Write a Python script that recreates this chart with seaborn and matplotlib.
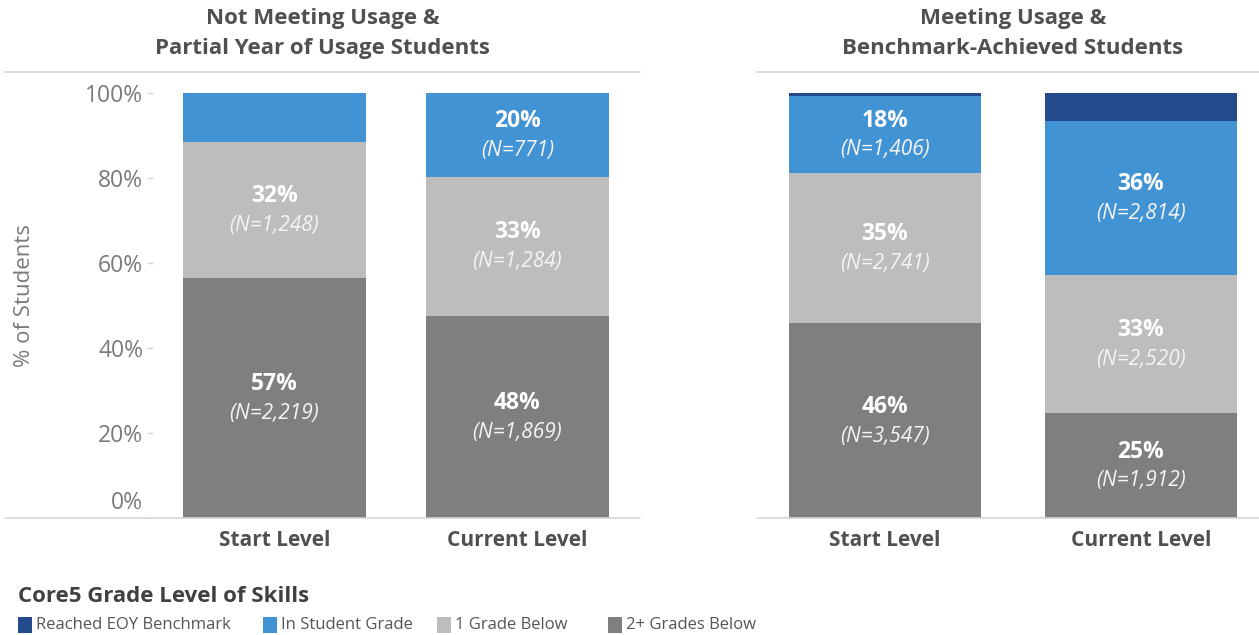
import numpy as np
import pandas as pd
import seaborn as sns
import matplotlib
matplotlib.use("Agg")
import matplotlib.pyplot as plt
from matplotlib.lines import Line2D
from matplotlib.patches import Rectangle
from matplotlib.transforms import ScaledTranslation

# ---- data -------------------------------------------------------------
levels = ["Start Level", "Current Level"]
skill_bands = ["Reached EOY Benchmark", "In Student Grade", "1 Grade Below", "2+ Grades Below"]
panel_titles = ["Not Meeting Usage &\nPartial Year of Usage Students",
                "Meeting Usage &\nBenchmark-Achieved Students"]

# student counts per band (Start, Current)
not_meeting_reached = [0, 0]
not_meeting_in_grade = [457, 771]
not_meeting_one_below = [1248, 1284]
not_meeting_two_plus = [2219, 1869]

meeting_reached = [56, 504]
meeting_in_grade = [1406, 2814]
meeting_one_below = [2741, 2520]
meeting_two_plus = [3547, 1912]

y_ticks = [0, 20, 40, 60, 80, 100]
legend_title = "Core5 Grade Level of Skills"

# ---- style ------------------------------------------------------------
band_colors = {
    "Reached EOY Benchmark": "#234a8b",
    "In Student Grade": "#4193d3",
    "1 Grade Below": "#bdbdbd",
    "2+ Grades Below": "#7f7f7f",
}
rule_color = "#d6d6d6"
text_dark = "#505050"
tick_gray = "#7a7a7a"

sns.set_theme(style="white")
plt.rcParams["font.family"] = ["Open Sans", "DejaVu Sans"]

W, H = 1259, 635
fig = plt.figure(figsize=(W / 100, H / 100), dpi=100)


def fx(px):
    return px / W


def fy(py):
    return 1 - py / H


def build_frame(reached, in_grade, one_below, two_plus):
    df = pd.DataFrame({
        "level": levels,
        "Reached EOY Benchmark": reached,
        "In Student Grade": in_grade,
        "1 Grade Below": one_below,
        "2+ Grades Below": two_plus,
    })
    total = df[skill_bands].sum(axis=1)
    for band in skill_bands:
        df[band + " pct"] = df[band] / total * 100
    return df


panels = [
    build_frame(not_meeting_reached, not_meeting_in_grade, not_meeting_one_below, not_meeting_two_plus),
    build_frame(meeting_reached, meeting_in_grade, meeting_one_below, meeting_two_plus),
]

# plot areas (pixel extents) and the rule spans above / below them
plot_x = [(153, 639), (757, 1269)]
rule_x = [(5, 640), (757, 1259)]
title_span = [(5, 640), (757, 1269)]
top_px, bottom_px = 93, 518

for i, df in enumerate(panels):
    x0, x1 = plot_x[i]
    ax = fig.add_axes([fx(x0), fy(bottom_px), fx(x1 - x0), (bottom_px - top_px) / H])

    # stacked bars: draw cumulative heights from the top band down
    bottom_up = skill_bands[::-1]  # 2+ first at the base
    cum = np.zeros(len(df))
    cum_heights = {}
    for band in bottom_up:
        lower = cum.copy()
        cum = cum + df[band + " pct"].to_numpy()
        cum_heights[band] = (lower, cum.copy())
    for band in skill_bands:  # tallest cumulative first
        top = cum_heights[band][1]
        sns.barplot(x=df["level"], y=top, color=band_colors[band], width=0.75,
                    saturation=1, linewidth=0, edgecolor="none", ax=ax, order=levels)

    # value labels for larger segments
    for j in range(len(df)):
        for band in skill_bands:
            share = df.loc[j, band + " pct"]
            if share < 15:
                continue
            lower, upper = cum_heights[band][0][j], cum_heights[band][1][j]
            mid = (lower + upper) / 2
            ax.annotate(f"{int(share + 0.5)}%", (j, mid), xytext=(0, 10),
                        textcoords="offset points", ha="center", va="center",
                        fontsize=16.5, fontweight="bold", color="white")
            ax.annotate(f"(N={int(df.loc[j, band]):,})", (j, mid), xytext=(0, -11),
                        textcoords="offset points", ha="center", va="center",
                        fontsize=15, fontstyle="italic", color="#f4f4f4")

    ax.set_ylim(0, 100)
    ax.set_xlim(-0.5, 1.5)
    ax.set_xlabel("")
    ax.set_ylabel("")
    for s in ax.spines.values():
        s.set_visible(False)

    # category ticks: boundaries as small marks, names below
    ax.set_xticks([-0.5, 0.5, 1.5], minor=True)
    ax.tick_params(axis="x", which="minor", length=5, width=1, color=rule_color, direction="out")
    ax.tick_params(axis="x", which="major", length=0, pad=9)
    ax.set_xticks(range(len(levels)))
    ax.set_xticklabels(levels, fontsize=15, fontweight="bold", color=text_dark)

    if i == 0:
        ax.set_yticks(y_ticks)
        ax.set_yticklabels([f"{v}%" for v in y_ticks], fontsize=16.5, color=tick_gray)
        ax.tick_params(axis="y", which="major", length=4, width=1, color=rule_color,
                       left=True, pad=3)
        zero_label = ax.get_yticklabels()[0]
        zero_label.set_transform(zero_label.get_transform() +
                                 ScaledTranslation(0, 0.18, fig.dpi_scale_trans))
        fig.text(fx(25), fy(295), "% of Students", rotation=90, ha="center", va="center",
                 fontsize=16, color=tick_gray)
    else:
        ax.set_yticks([])

    # horizontal rules under the title and along the base
    r0, r1 = rule_x[i]
    for yy in (72, bottom_px):
        fig.add_artist(Line2D([fx(r0), fx(r1)], [fy(yy), fy(yy)], color=rule_color, lw=1.2))

    # panel title centred over its span
    title_cx = sum(title_span[i]) / 2
    fig.text(fx(title_cx), fy(33.5), panel_titles[i], ha="center", va="center",
             fontsize=16, fontweight="bold", color=text_dark, linespacing=1.6)

# legend
fig.text(fx(18), fy(596), legend_title, ha="left", va="center",
         fontsize=16, fontweight="bold", color="#404040")
swatch_x = [18, 263, 437, 608]
for band, sx in zip(skill_bands, swatch_x):
    fig.add_artist(Rectangle((fx(sx), fy(633)), fx(14), 16 / H,
                             facecolor=band_colors[band], edgecolor="none",
                             transform=fig.transFigure))
    fig.text(fx(sx + 18), fy(625), band, ha="left", va="center",
             fontsize=12, color="#555555")

fig.savefig("out.png", dpi=100, facecolor="white")
